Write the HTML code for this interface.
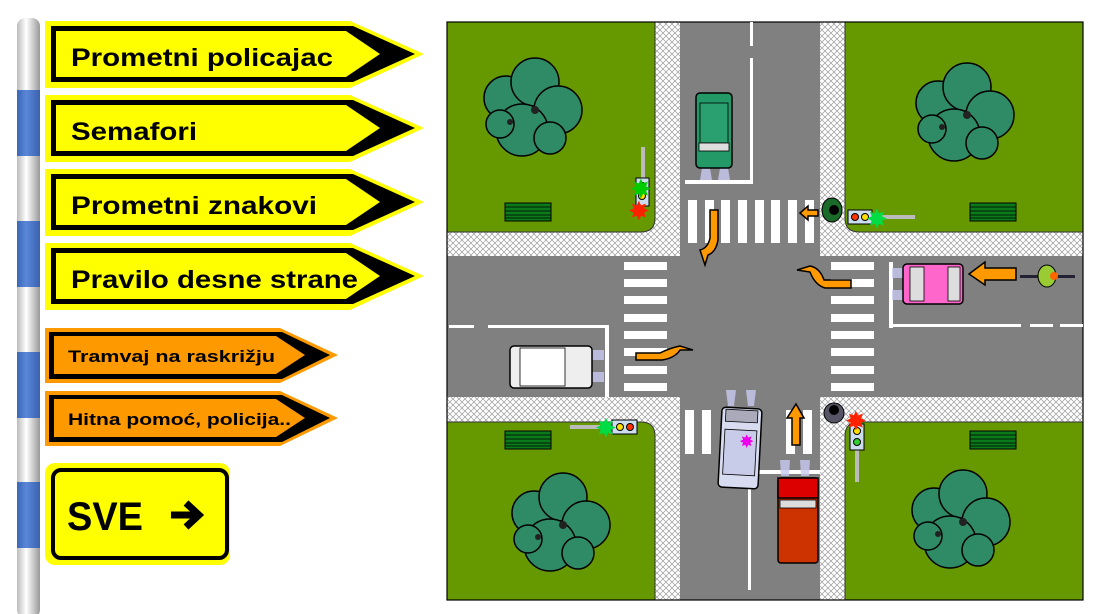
<!DOCTYPE html>
<html><head><meta charset="utf-8"><style>
html,body{margin:0;padding:0;background:#fff;width:1104px;height:614px;overflow:hidden}
svg{display:block;font-family:"Liberation Sans",sans-serif;font-weight:bold}
</style></head><body>
<svg width="1104" height="614" viewBox="0 0 1104 614" xmlns="http://www.w3.org/2000/svg">
<defs>
<linearGradient id="pole" x1="0" x2="1"><stop offset="0" stop-color="#bbb"/><stop offset="0.4" stop-color="#fff"/><stop offset="1" stop-color="#999"/></linearGradient>
<linearGradient id="poleb" x1="0" x2="1"><stop offset="0" stop-color="#3a66b8"/><stop offset="0.4" stop-color="#5b87d8"/><stop offset="1" stop-color="#3a62b0"/></linearGradient>
<pattern id="hatch" width="6" height="6" patternUnits="userSpaceOnUse">
<rect width="6" height="6" fill="#fff"/><path d="M0 0L6 6M6 0L0 6" stroke="#9a9a9a" stroke-width="0.7"/></pattern>
<g id="tree"><g fill="#2f8a66" stroke="#000" stroke-width="1.5">
<circle cx="-24" cy="-12" r="22"/><circle cx="5" cy="-28" r="24"/><circle cx="28" cy="0" r="24"/><circle cx="-8" cy="20" r="26"/><circle cx="20" cy="28" r="16"/><circle cx="-30" cy="14" r="14"/></g>
<circle cx="5" cy="0" r="4" fill="#222"/><circle cx="-20" cy="12" r="3" fill="#222"/></g>
<g id="grate"><rect width="46" height="18" fill="#0a7a1a" stroke="#000" stroke-width="1"/><path d="M0 4H46M0 8H46M0 12H46M0 15H46" stroke="#000" stroke-width="0.8"/></g>
</defs>

<!-- pole -->
<rect x="17" y="18" width="23" height="600" rx="8" fill="url(#pole)"/>
<rect x="17" y="90" width="23" height="66" fill="url(#poleb)"/>
<rect x="17" y="221" width="23" height="66" fill="url(#poleb)"/>
<rect x="17" y="352" width="23" height="66" fill="url(#poleb)"/>
<rect x="17" y="482" width="23" height="66" fill="url(#poleb)"/>

<!-- yellow signs -->
<g>
<polygon points="45,21 350,21 424,54 350,88 45,88" fill="#ff0"/>
<polygon points="51,26 353,26 415,54 353,82 51,82" fill="#000"/>
<polygon points="56,31 346,31 380,54 346,77 56,77" fill="#ff0"/>
<text x="71" y="66" font-size="25" fill="#000" textLength="262" lengthAdjust="spacingAndGlyphs">Prometni policajac</text>
</g>
<g transform="translate(0,74)">
<polygon points="45,21 350,21 424,54 350,88 45,88" fill="#ff0"/>
<polygon points="51,26 353,26 415,54 353,82 51,82" fill="#000"/>
<polygon points="56,31 346,31 380,54 346,77 56,77" fill="#ff0"/>
<text x="71" y="66" font-size="25" fill="#000" textLength="126" lengthAdjust="spacingAndGlyphs">Semafori</text>
</g>
<g transform="translate(0,148)">
<polygon points="45,21 350,21 424,54 350,88 45,88" fill="#ff0"/>
<polygon points="51,26 353,26 415,54 353,82 51,82" fill="#000"/>
<polygon points="56,31 346,31 380,54 346,77 56,77" fill="#ff0"/>
<text x="71" y="66" font-size="25" fill="#000" textLength="246" lengthAdjust="spacingAndGlyphs">Prometni znakovi</text>
</g>
<g transform="translate(0,222)">
<polygon points="45,21 350,21 424,54 350,88 45,88" fill="#ff0"/>
<polygon points="51,26 353,26 415,54 353,82 51,82" fill="#000"/>
<polygon points="56,31 346,31 380,54 346,77 56,77" fill="#ff0"/>
<text x="71" y="66" font-size="25" fill="#000" textLength="287" lengthAdjust="spacingAndGlyphs">Pravilo desne strane</text>
</g>
<!-- orange signs -->
<g>
<polygon points="45,328 280,328 338,355 280,383 45,383" fill="#f90"/>
<polygon points="49,332 282,332 330,355 282,379 49,379" fill="#000"/>
<polygon points="54,336 276,336 305,355 276,374 54,374" fill="#f90"/>
<text x="68" y="362" font-size="17" fill="#000" textLength="207" lengthAdjust="spacingAndGlyphs">Tramvaj na raskrižju</text>
</g>
<g transform="translate(0,63)">
<polygon points="45,328 280,328 338,355 280,383 45,383" fill="#f90"/>
<polygon points="49,332 282,332 330,355 282,379 49,379" fill="#000"/>
<polygon points="54,336 276,336 305,355 276,374 54,374" fill="#f90"/>
<text x="68" y="362" font-size="17" fill="#000" textLength="223" lengthAdjust="spacingAndGlyphs">Hitna pomoć, policija..</text>
</g>
<!-- SVE -->
<rect x="45" y="463" width="185" height="102" rx="10" fill="#ff0"/>
<rect x="53" y="470" width="174" height="88" rx="8" fill="#ff0" stroke="#000" stroke-width="4"/>
<text x="67" y="530" font-size="40" fill="#000" textLength="76" lengthAdjust="spacingAndGlyphs">SVE</text>
<path d="M171 515H197M186 503L199 515L186 527" stroke="#000" stroke-width="7" fill="none"/>

<!-- intersection -->
<rect x="447" y="22" width="636" height="578" fill="url(#hatch)"/>
<g fill="#669900" stroke="#333" stroke-width="1">
<path d="M447 22H655V218Q655 232 641 232H447Z"/>
<path d="M845 22H1083V232H859Q845 232 845 218Z"/>
<path d="M447 422H641Q655 422 655 436V600H447Z"/>
<path d="M859 422H1083V600H845V436Q845 422 859 422Z"/>
</g>
<rect x="680" y="22" width="140" height="578" fill="#808080"/>
<rect x="447" y="256" width="636" height="141" fill="#808080"/>
<rect x="447" y="22" width="636" height="578" fill="none" stroke="#000" stroke-width="1.2"/>

<!-- markings -->
<g fill="#fff">
<rect x="750" y="22" width="3" height="24"/><rect x="750" y="58" width="3" height="125"/>
<rect x="685" y="180" width="68" height="4"/>
<rect x="889" y="262" width="4" height="66"/><rect x="889" y="324" width="132" height="3"/>
<rect x="1030" y="324" width="23" height="3"/><rect x="1060" y="324" width="23" height="3"/>
<rect x="449" y="325" width="25" height="3"/><rect x="488" y="325" width="119" height="3"/><rect x="605" y="325" width="4" height="72"/>
<rect x="748" y="470" width="72" height="4"/><rect x="748" y="470" width="3" height="120"/>
</g>
<g fill="#fff">
<rect x="688" y="200" width="9" height="43"/><rect x="705" y="200" width="9" height="43"/><rect x="721" y="200" width="9" height="43"/><rect x="738" y="200" width="9" height="43"/><rect x="755" y="200" width="9" height="43"/><rect x="771" y="200" width="9" height="43"/><rect x="788" y="200" width="9" height="43"/><rect x="805" y="200" width="9" height="43"/>
<rect x="685" y="410" width="9" height="44"/><rect x="702" y="410" width="9" height="44"/><rect x="786" y="410" width="9" height="44"/><rect x="803" y="410" width="9" height="44"/>
</g>
<g fill="#fff">
<rect x="624" y="262" width="43" height="8"/><rect x="624" y="279" width="43" height="8"/><rect x="624" y="296" width="43" height="8"/><rect x="624" y="314" width="43" height="8"/><rect x="624" y="331" width="43" height="8"/><rect x="624" y="348" width="43" height="8"/><rect x="624" y="366" width="43" height="8"/><rect x="624" y="383" width="43" height="8"/>
<rect x="831" y="262" width="43" height="8"/><rect x="831" y="279" width="43" height="8"/><rect x="831" y="296" width="43" height="8"/><rect x="831" y="314" width="43" height="8"/><rect x="831" y="331" width="43" height="8"/><rect x="831" y="348" width="43" height="8"/><rect x="831" y="366" width="43" height="8"/><rect x="831" y="383" width="43" height="8"/>
</g>

<!-- trees & grates -->
<use href="#tree" transform="translate(530,110)"/>
<use href="#tree" transform="translate(962,115)"/>
<use href="#tree" transform="translate(558,525)"/>
<use href="#tree" transform="translate(958,522)"/>
<use href="#grate" x="505" y="203"/><use href="#grate" x="970" y="203"/>
<use href="#grate" x="505" y="431"/><use href="#grate" x="970" y="431"/>

<!-- headlight glows -->
<g fill="#c8c8f0" opacity="0.8">
<path d="M702 168h8l2 12h-12zM720 168h8l2 12h-12z"/>
<path d="M892 268h11v10h-11zM892 290h11v10h-11z"/>
<path d="M592 350h12v10h-12zM592 372h12v10h-12z"/>
<path d="M726 390h10l-2 16h-6zM746 390h10l-2 16h-6z"/>
<path d="M780 460h10l-1 16h-8zM800 460h10l-1 16h-8z"/>
</g>
<!-- cars -->
<g stroke="#000" stroke-width="1.5">
<rect x="696" y="93" width="36" height="75" rx="4" fill="#229966"/>
<rect x="700" y="103" width="28" height="40" fill="#2aa070" stroke-width="0.8"/>
<rect x="699" y="143" width="30" height="8" fill="#ddd" stroke-width="0.8"/>
<rect x="903" y="264" width="60" height="40" rx="4" fill="#ff66cc"/>
<rect x="910" y="267" width="14" height="34" fill="#ddd" stroke-width="0.8"/>
<rect x="948" y="267" width="12" height="34" fill="#ddd" stroke-width="0.8"/>
<rect x="510" y="346" width="82" height="42" rx="4" fill="#eee"/>
<rect x="520" y="348" width="45" height="38" fill="#fff" stroke-width="0.8"/>
<g transform="rotate(3 740 448)"><rect x="720" y="408" width="40" height="80" rx="4" fill="#d8dcf0"/>
<rect x="724" y="410" width="32" height="12" fill="#aab" stroke-width="0.8"/><rect x="724" y="430" width="32" height="45" fill="#c8cce8" stroke-width="0.8"/></g>
<rect x="778" y="478" width="40" height="85" rx="3" fill="#cc3300"/>
<rect x="778" y="478" width="40" height="20" fill="#dd0000"/>
<rect x="780" y="500" width="36" height="8" fill="#ddd" stroke-width="0.8"/>
</g>
<text x="740" y="447" font-size="16" fill="#e0e">✸</text>

<!-- arrows -->
<g fill="#f90" stroke="#000" stroke-width="1.5">
<path d="M710 210H718V240Q716 252 708 255L705 265L700 250Q708 248 710 238Z"/>
<path d="M851 280V288H825Q815 285 810 272L797 270L810 266Q820 268 824 280Z"/>
<path d="M636 353V360H662Q675 358 680 350L693 350L680 346Q670 348 660 353Z"/>
<path d="M792 445V418H787L796 404L804 418H800V445Z"/>
<path d="M1016 268H985V262L969 274L985 285V280H1016Z"/>
<path d="M818 210H808V206L800 213L808 220V216H818Z"/>
</g>

<!-- traffic lights -->
<g stroke="#000" stroke-width="1">
<rect x="641" y="147" width="4" height="32" fill="#bbb" stroke="none"/>
<rect x="636" y="178" width="13" height="28" fill="#cde"/>
<circle cx="642" cy="186" r="3.5" fill="#3c3"/><circle cx="642" cy="196" r="3.5" fill="#fd0"/>
<rect x="870" y="215" width="45" height="4" fill="#bbb" stroke="none"/>
<rect x="848" y="210" width="24" height="14" fill="#cde"/>
<circle cx="855" cy="217" r="3.5" fill="#f30"/><circle cx="865" cy="217" r="3.5" fill="#fd0"/>
<rect x="570" y="425" width="30" height="4" fill="#bbb" stroke="none"/>
<rect x="612" y="420" width="25" height="14" fill="#cde"/>
<circle cx="620" cy="427" r="3.5" fill="#fd0"/><circle cx="630" cy="427" r="3.5" fill="#f30"/>
<rect x="855" y="448" width="4" height="34" fill="#bbb" stroke="none"/>
<rect x="850" y="424" width="14" height="26" fill="#cde"/>
<circle cx="857" cy="431" r="3.5" fill="#fd0"/><circle cx="857" cy="442" r="3.5" fill="#3c3"/>
</g>
<g font-size="26" font-weight="normal">
<text x="630" y="198" fill="#0c0">✸</text>
<text x="628" y="220" fill="#f20">✸</text>
<text x="866" y="228" fill="#0d4">✸</text>
<text x="595" y="437" fill="#0d4">✸</text>
<text x="845" y="430" fill="#f20">✸</text>
</g>
<!-- pedestrians / cyclist -->
<ellipse cx="832" cy="210" rx="10" ry="12" fill="#1a6a2a" stroke="#000"/>
<circle cx="834" cy="210" r="5" fill="#000"/>
<ellipse cx="834" cy="413" rx="10" ry="10" fill="#556" stroke="#000"/>
<circle cx="834" cy="410" r="5" fill="#000"/>
<rect x="1020" y="275" width="55" height="3" fill="#223"/>
<ellipse cx="1047" cy="276" rx="9" ry="11" fill="#9c3" stroke="#000"/>
<circle cx="1054" cy="276" r="4" fill="#f60"/>
</svg>
</body></html>
